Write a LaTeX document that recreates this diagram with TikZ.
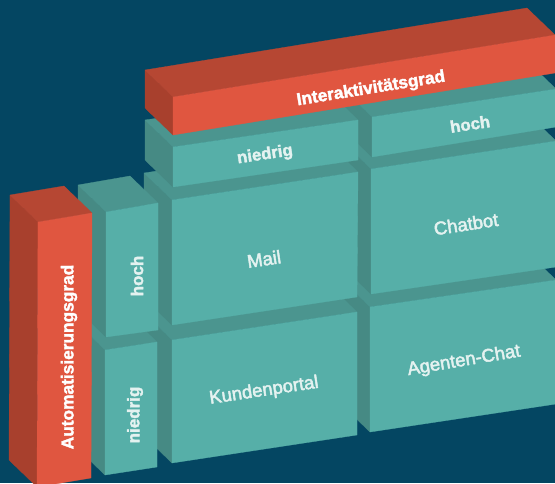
\documentclass[tikz,border=0pt]{standalone}
\usepackage{fontspec}
\setmainfont{Liberation Sans}
\newcommand\medtext[1]{\special{pdf:literal direct 2 Tr 0.45 w}#1\special{pdf:literal direct 0 Tr}}
\newcommand\boldtext[1]{\special{pdf:literal direct 2 Tr 0.35 w}#1\special{pdf:literal direct 0 Tr}}
\definecolor{bg}{RGB}{4,70,98}
\definecolor{tealF}{RGB}{86,175,168}
\definecolor{tealT}{RGB}{75,149,143}
\definecolor{tealS}{RGB}{70,138,132}
\definecolor{redF}{RGB}{224,86,64}
\definecolor{redT}{RGB}{182,71,51}
\definecolor{redS}{RGB}{168,64,45}
\definecolor{txt}{RGB}{228,242,240}
\newcommand\drawcuboid[7]{%
  \coordinate (tl) at (#1);
  \coordinate (tr) at (#2);
  \coordinate (br) at (#3);
  \coordinate (bl) at (#4);
  \filldraw[fill=#7,draw=#7,line width=0.3pt,line join=round] (tl) -- (bl) -- ([shift={(-28,-27)}]bl) -- ([shift={(-28,-27)}]tl) -- cycle;
  \filldraw[fill=#6,draw=#6,line width=0.3pt,line join=round] (tl) -- (tr) -- ([shift={(-28,-27)}]tr) -- ([shift={(-28,-27)}]tl) -- cycle;
  \filldraw[fill=#5,draw=#5,line width=0.3pt,line join=round] (tl) -- (tr) -- (br) -- (bl) -- cycle;
}
\tikzset{
  celltext/.style={text=txt,font=\fontsize{18.5}{20}\selectfont,rotate=8.5,inner sep=0pt},
  headtext/.style={text=txt,font=\fontsize{16.8}{20}\selectfont\bfseries,rotate=8.5,inner sep=0pt},
  rowtext/.style={text=txt,font=\fontsize{17}{20}\selectfont\bfseries,rotate=90,inner sep=0pt},
  axistext/.style={text=white,font=\fontsize{17.3}{20}\selectfont\bfseries,inner sep=0pt}
}
\begin{document}
\begin{tikzpicture}[x=1pt,y=-1pt]
\useasboundingbox (0,0) rectangle (555,483);
\clip (0,0) rectangle (555,483);
\fill[bg] (0,0) rectangle (555,483);
% right column (bottom to top)
\drawcuboid{370,307}{556,280}{556,404}{370,432}{tealF}{tealT}{tealS}
\drawcuboid{371,169}{556,141}{556,267}{371,294}{tealF}{tealT}{tealS}
\drawcuboid{372,117}{556,89}{556,127}{372,157}{tealF}{tealT}{tealS}
% left column (bottom to top)
\drawcuboid{172,340}{357,312}{357,435}{172,463}{tealF}{tealT}{tealS}
\drawcuboid{172,200}{358,172}{357,297}{172,325}{tealF}{tealT}{tealS}
\drawcuboid{173,147}{358,120}{358,160}{173,187}{tealF}{tealT}{tealS}
% Interaktivitaetsgrad bar
\drawcuboid{173,97}{555,35}{555,73}{173,135}{redF}{redT}{redS}
% row labels
\drawcuboid{105,350}{157,342}{157,467}{105,475}{tealF}{tealT}{tealS}
\drawcuboid{106,212}{158,203}{158,330}{106,337}{tealF}{tealT}{tealS}
% Automatisierungsgrad bar
\drawcuboid{38,222}{92,213}{91,478}{37,487}{redF}{redT}{redS}
% texts
\node[axistext,rotate=9.2] (interakt) at (371,89) {\boldtext{Interaktivitätsgrad}};
\node[headtext] (hniedrig) at (265,155) {\boldtext{niedrig}};
\node[headtext] (hhoch) at (470,124) {\boldtext{hoch}};
\node[celltext] (mail) at (264,259) {\medtext{Mail}};
\node[celltext] (chatbot) at (466,224) {\medtext{Chatbot}};
\node[celltext] (kunden) at (264,391) {\medtext{Kundenportal}};
\node[celltext,rotate=1] (agenten) at (464,361) {\medtext{Agenten-Chat}};
\node[rowtext] (rhoch) at (137,276) {\boldtext{hoch}};
\node[rowtext] (rniedrig) at (135,415) {\boldtext{niedrig}};
\node[axistext,rotate=90] (auto) at (69,357) {\boldtext{Automatisierungsgrad}};
\end{tikzpicture}
\end{document}
